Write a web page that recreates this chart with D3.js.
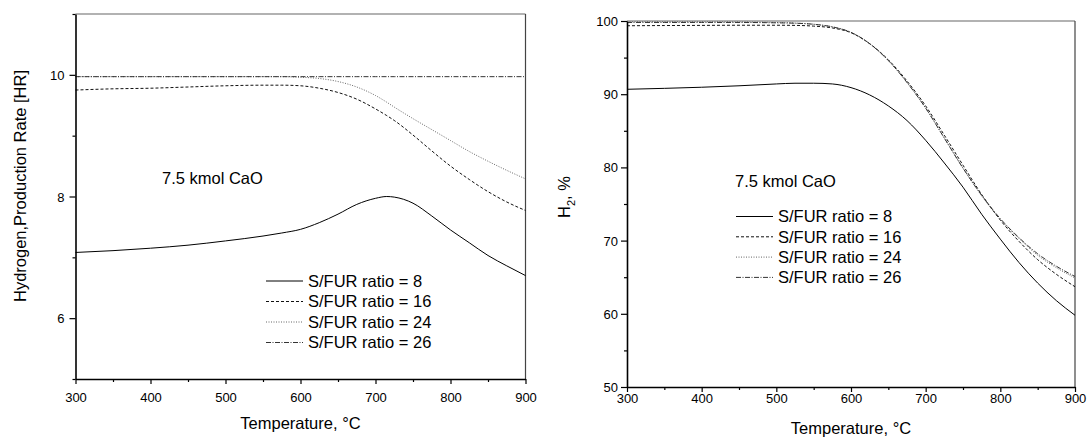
<!DOCTYPE html>
<html>
<head>
<meta charset="utf-8">
<script src="https://cdn.jsdelivr.net/npm/d3@7"></script>
<style>
  html, body { margin: 0; padding: 0; background: #fff; }
  svg { display: block; font-family: "Liberation Sans", Arial, sans-serif; }
</style>
</head>
<body>
<svg id="chart" width="1087" height="438"></svg>
<script>
// ---- data ----
const seriesLabels = ["S/FUR ratio = 8", "S/FUR ratio = 16", "S/FUR ratio = 24", "S/FUR ratio = 26"];
const xTicks = [300, 400, 500, 600, 700, 800, 900];
const xMinorTicks = [350, 450, 550, 650, 750, 850];
const noteText = "7.5 kmol CaO";

// Hydrogen production rate [HR] vs temperature
const tempsHR = [300, 350, 400, 450, 500, 550, 575, 600, 625, 650, 675, 700, 715, 725, 750, 775, 800, 825, 850, 875, 900];
const hrRatio8  = [7.08, 7.11, 7.15, 7.20, 7.27, 7.35, 7.40, 7.46, 7.57, 7.71, 7.87, 7.97, 8.00, 7.99, 7.89, 7.68, 7.45, 7.24, 7.03, 6.86, 6.70];
const hrRatio16 = [9.75, 9.77, 9.78, 9.80, 9.82, 9.83, 9.83, 9.82, 9.78, 9.71, 9.60, 9.44, 9.33, 9.25, 9.01, 8.75, 8.50, 8.28, 8.08, 7.91, 7.77];
const hrRatio24 = [9.97, 9.97, 9.97, 9.97, 9.97, 9.97, 9.97, 9.96, 9.94, 9.89, 9.80, 9.66, 9.55, 9.47, 9.28, 9.10, 8.92, 8.74, 8.58, 8.43, 8.29];
const hrRatio26 = [9.97, 9.97, 9.97, 9.97, 9.97, 9.97, 9.97, 9.97, 9.97, 9.97, 9.97, 9.97, 9.97, 9.97, 9.97, 9.97, 9.97, 9.97, 9.97, 9.97, 9.97];
const hrTicks = [6, 8, 10];
const hrMinorTicks = [5, 7, 9, 11];

// H2 content [%] vs temperature
const tempsH2 = [300, 350, 400, 450, 500, 525, 550, 575, 600, 625, 650, 675, 700, 725, 750, 775, 800, 825, 850, 875, 900];
const h2Ratio8  = [90.67, 90.8, 90.95, 91.15, 91.4, 91.5, 91.5, 91.4, 90.9, 89.9, 88.4, 86.4, 83.7, 80.6, 77.3, 73.6, 70.2, 67.0, 64.2, 61.8, 59.8];
const h2Ratio16 = [99.35, 99.38, 99.4, 99.42, 99.42, 99.4, 99.3, 99.05, 98.4, 96.9, 94.7, 91.8, 88.4, 84.4, 80.3, 76.3, 72.8, 69.9, 67.4, 65.4, 63.7];
const h2Ratio24 = [99.9, 99.9, 99.9, 99.88, 99.8, 99.72, 99.56, 99.2, 98.45, 96.9, 94.6, 91.6, 88.1, 84.0, 79.9, 76.1, 72.9, 70.3, 68.0, 66.3, 64.9];
const h2Ratio26 = [99.8, 99.8, 99.8, 99.8, 99.75, 99.7, 99.55, 99.2, 98.45, 96.9, 94.6, 91.6, 88.1, 84.0, 79.9, 76.2, 73.0, 70.4, 68.2, 66.5, 65.1];
const h2Ticks = [50, 60, 70, 80, 90, 100];
const h2MinorTicks = [55, 65, 75, 85, 95];

// ---- line styles per series ----
const lineStyles = [
  { dash: null,            color: "#000" },
  { dash: "3,2",           color: "#111" },
  { dash: "1,1.5",         color: "#666" },
  { dash: "5,1.5,1,1.5",   color: "#333" }
];

const svg = d3.select("#chart");

function drawPanel(cfg) {
  const x = d3.scaleLinear().domain([300, 900]).range([cfg.left, cfg.right]);
  const y = d3.scaleLinear().domain(cfg.yDomain).range([cfg.bottom, cfg.top]);
  const g = svg.append("g");

  // frame: top and right edges
  g.append("line").attr("x1", cfg.left).attr("x2", cfg.right).attr("y1", cfg.top).attr("y2", cfg.top)
    .attr("stroke", "#666").attr("stroke-width", 1.2);
  g.append("line").attr("x1", cfg.right).attr("x2", cfg.right).attr("y1", cfg.top).attr("y2", cfg.bottom)
    .attr("stroke", "#444").attr("stroke-width", 1.2);

  // curves
  const line = d3.line()
    .x(d => x(d[0]))
    .y(d => y(d[1]))
    .curve(d3.curveMonotoneX);
  cfg.series.forEach((vals, i) => {
    const pts = cfg.temps.map((t, k) => [t, vals[k]]);
    g.append("path")
      .attr("d", line(pts))
      .attr("fill", "none")
      .attr("stroke", lineStyles[i].color)
      .attr("stroke-width", 1)
      .attr("stroke-dasharray", lineStyles[i].dash);
  });

  // x axis
  const xAxis = g.append("g").attr("transform", `translate(0,${cfg.bottom})`)
    .call(d3.axisBottom(x).tickValues(xTicks).tickSize(5).tickSizeOuter(0).tickFormat(d3.format("d")));
  xAxis.selectAll("text").attr("y", cfg.xLabelBaseline - cfg.bottom).attr("dy", 0)
    .attr("font-size", 13).attr("fill", "#000").attr("font-family", "Liberation Sans, Arial, sans-serif");
  g.append("g").attr("transform", `translate(0,${cfg.bottom})`)
    .call(d3.axisBottom(x).tickValues(xMinorTicks).tickSize(3).tickSizeOuter(0).tickFormat(""))
    .select(".domain").remove();

  // y axis
  const yAxis = g.append("g").attr("transform", `translate(${cfg.left},0)`)
    .call(d3.axisLeft(y).tickValues(cfg.yTicks).tickSize(6).tickSizeOuter(0).tickFormat(d3.format("d")));
  yAxis.selectAll("text").attr("x", -cfg.yLabelGap).attr("dy", "0.35em")
    .attr("font-size", 13).attr("fill", "#000").attr("font-family", "Liberation Sans, Arial, sans-serif");
  g.append("g").attr("transform", `translate(${cfg.left},0)`)
    .call(d3.axisLeft(y).tickValues(cfg.yMinorTicks).tickSize(3).tickSizeOuter(0).tickFormat(""))
    .select(".domain").remove();

  [xAxis, yAxis].forEach(a => {
    a.select(".domain").attr("stroke", "#000").attr("stroke-width", 1.6);
  });
  g.selectAll(".tick line").attr("stroke", "#000").attr("stroke-width", 1.2);

  // axis titles
  g.append("text")
    .attr("x", (cfg.left + cfg.right) / 2)
    .attr("y", cfg.xTitleBaseline)
    .attr("text-anchor", "middle")
    .attr("font-size", 16.5)
    .text("Temperature, \u00B0C");

  const yt = g.append("text")
    .attr("transform", `translate(${cfg.yTitleX},${cfg.yTitleY}) rotate(-90)`)
    .attr("text-anchor", "middle")
    .attr("font-size", 16.5);
  cfg.yTitle(yt);

  // note
  g.append("text")
    .attr("x", cfg.noteX).attr("y", cfg.noteY)
    .attr("font-size", 16.5)
    .text(noteText);

  // legend
  seriesLabels.forEach((lab, i) => {
    const ly = cfg.legendY + i * cfg.legendStep;
    g.append("line")
      .attr("x1", cfg.legendX).attr("x2", cfg.legendX + 37)
      .attr("y1", ly).attr("y2", ly)
      .attr("stroke", lineStyles[i].color)
      .attr("stroke-width", 1)
      .attr("stroke-dasharray", lineStyles[i].dash);
    g.append("text")
      .attr("x", cfg.legendX + 42).attr("y", ly)
      .attr("dy", "0.36em")
      .attr("font-size", 16.5)
      .text(lab);
  });
}

drawPanel({
  left: 75.5, right: 525.5, top: 14, bottom: 379,
  yDomain: [5, 11], yTicks: hrTicks, yMinorTicks: hrMinorTicks, yLabelGap: 11,
  temps: tempsHR,
  series: [hrRatio8, hrRatio16, hrRatio24, hrRatio26],
  xLabelBaseline: 402, xTitleBaseline: 429,
  yTitleX: 26, yTitleY: 186,
  yTitle: t => t.text("Hydrogen,Production Rate [HR]"),
  noteX: 162, noteY: 184,
  legendX: 266, legendY: 281, legendStep: 20.5
});

drawPanel({
  left: 627, right: 1075, top: 21, bottom: 387,
  yDomain: [50, 100], yTicks: h2Ticks, yMinorTicks: h2MinorTicks, yLabelGap: 9,
  temps: tempsH2,
  series: [h2Ratio8, h2Ratio16, h2Ratio24, h2Ratio26],
  xLabelBaseline: 403, xTitleBaseline: 434,
  yTitleX: 569.5, yTitleY: 197,
  yTitle: t => {
    t.append("tspan").text("H");
    t.append("tspan").attr("font-size", 11).attr("dy", 5).text("2");
    t.append("tspan").attr("dy", -5).text(", %");
  },
  noteX: 735, noteY: 187,
  legendX: 736, legendY: 216.5, legendStep: 20.3
});
</script>
</body>
</html>
